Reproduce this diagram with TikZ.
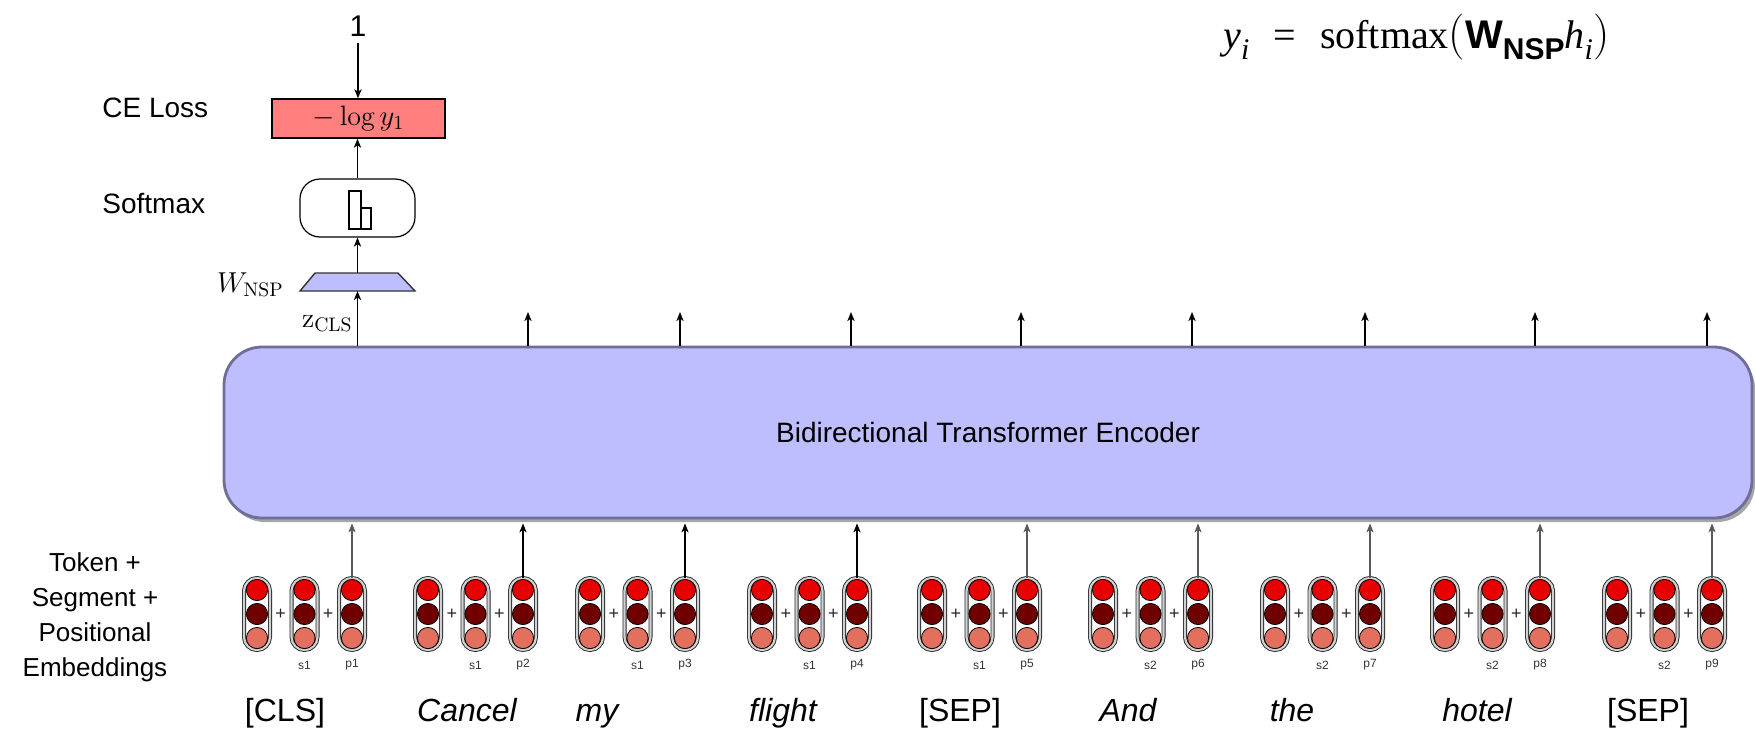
\documentclass[tikz,border=0pt]{standalone}
\usepackage{fontspec}
\usepackage{amsmath}
\usetikzlibrary{arrows.meta,shapes.geometric,shadows,calc}
\newfontfamily\lsans{Liberation Sans}
\newfontfamily\tnr{Liberation Serif}
\definecolor{encfill}{HTML}{BEBEFF}
\definecolor{encdraw}{HTML}{6E6E99}
\definecolor{cefill}{HTML}{FF7F7F}
\definecolor{ctop}{HTML}{E80000}
\definecolor{cmid}{HTML}{700000}
\definecolor{cbot}{HTML}{E3705F}
\newcommand{\sbs}[1]{\raisebox{-0.28em}{\fontsize{15}{15}\selectfont #1}}
\newcommand{\bigp}[1]{{\rmfamily\mdseries\upshape\fontsize{23}{23}\selectfont\raisebox{-0.02em}{#1}}}
\begin{document}
\begin{tikzpicture}[x=0.5pt,y=-0.5pt,
  tip/.style={-{Stealth[length=4.5pt,width=3.6pt,inset=1.2pt]}},
  carr/.style={tip,line width=0.8pt,black},
  tarr/.style={tip,line width=1pt},
  barr/.style={tip,line width=0.6pt,shorten >=2pt},
  pill/.style={draw=black!85,double=black!18,double distance=1.1pt,line width=0.45pt,
    fill=white,rounded corners=6.5pt,minimum width=13pt,minimum height=36pt,inner sep=0pt},
  dot/.style={draw=black,line width=0.4pt},
  plus/.style={font=\lsans\fontsize{9}{9}\selectfont,inner sep=0pt,text=black!85},
  lab/.style={font=\lsans\fontsize{6}{7}\selectfont,inner sep=0pt,text=black!80},
  word/.style={font=\lsans\fontsize{16}{18}\selectfont,anchor=base,inner sep=0pt},
  side/.style={font=\lsans\fontsize{14}{16}\selectfont,anchor=west,inner sep=0pt},
  enc/.style={draw=encdraw,fill=encfill,line width=1.4pt,rounded corners=19pt,
    minimum width=764pt,minimum height=85.5pt,inner sep=0pt,
    drop shadow={shadow xshift=1.5pt,shadow yshift=-2pt,fill=black,opacity=0.35},
    font=\lsans\fontsize{14}{16}\selectfont}
]
\useasboundingbox (0,0) rectangle (1755,728);

% encoder
\node[enc] (enc) at (988,432.5) {Bidirectional Transformer Encoder};

% embeddings
\foreach \x/\sg [count=\i] in {257/s1,428/s1,590/s1,762/s1,932/s1,1103/s2,1275/s2,1445/s2,1617/s2} {
  \foreach \j in {1,2,3} {
    \pgfmathsetmacro{\px}{\x+47.5*(\j-1)}
    \node[pill] (g\i-\j) at (\px,614) {};
    \fill[ctop] (\px,590) circle (5.3pt);
    \draw[dot] (\px,590) circle (5.3pt);
    \fill[cmid] (\px,614) circle (5.3pt);
    \draw[dot] (\px,614) circle (5.3pt);
    \fill[cbot] (\px,638) circle (5.3pt);
    \draw[dot] (\px,638) circle (5.3pt);
  }
  \node[plus] (plus\i-1) at (\x+23.75,614) {+};
  \node[plus] (plus\i-2) at (\x+71.25,614) {+};
  \node[lab] (seg\i) at (\x+47.5,665) {\sg};
  \node[lab] (pos\i) at (\x+95,665) {p\i};
}

% bottom arrows
\draw[barr,black!65] (g1-3.north) -- (g1-3.north |- enc.south);
\draw[barr] (g2-3.north) -- (g2-3.north |- enc.south);
\draw[barr] (g3-3.north) -- (g3-3.north |- enc.south);
\draw[barr] (g4-3.north) -- (g4-3.north |- enc.south);
\foreach \i in {5,6,7,8,9} {
  \draw[barr,black!65] (g\i-3.north) -- (g\i-3.north |- enc.south);
}

% top arrows
\foreach \t [count=\i from 2] in {528,680,851,1021,1192,1365,1535,1707} {
  \coordinate (top\i) at (\t,312);
  \draw[tarr] (top\i |- enc.north) -- (top\i);
}

% words
\node[word] (w1) at (285,721) {[CLS]};
\node[word] (w2) at (467,721) {\itshape Cancel};
\node[word] (w3) at (597,721) {\itshape my};
\node[word] (w4) at (783,721) {\itshape flight};
\node[word] (w5) at (960,721) {[SEP]};
\node[word] (w6) at (1128,721) {\itshape And};
\node[word] (w7) at (1292,721) {\itshape the};
\node[word] (w8) at (1477,721) {\itshape hotel};
\node[word] (w9) at (1648,721) {[SEP]};

% left label
\node[align=center,font=\lsans\fontsize{13}{17.5}\selectfont,inner sep=0pt] (emb) at (95,617)
  {Token +\\Segment +\\Positional\\Embeddings};

% NSP head
\draw[fill=encfill,draw=black!80,line width=0.7pt] (300,291) -- (415,291) -- (398,273) -- (315,273) -- cycle;
\coordinate (trapS) at (357.5,291);
\coordinate (trapN) at (357.5,273);
\node[draw,rounded corners=10pt,minimum width=57.5pt,minimum height=29pt,line width=0.6pt] (sm) at (357.5,208) {};
\draw[line width=0.6pt] (349,229) rectangle (361,191);
\draw[line width=0.6pt] (361,229) rectangle (371,208);
\node[draw,fill=cefill,minimum width=86.5pt,minimum height=19.5pt,line width=0.7pt,
  font=\fontsize{14}{16}\selectfont] (ce) at (358.5,118.5) {$-\log y_1$};
\node[font=\lsans\fontsize{15}{17}\selectfont] (one) at (358,26) {1};

\draw[carr] (trapS |- enc.north) -- (trapS);
\draw[carr] (trapN) -- (trapN |- sm.south);
\draw[carr] (sm.north) -- (sm.north |- ce.south);
\draw[carr] (one.south) -- (one.south |- ce.north);

\node[side] (celab) at (102,108) {CE Loss};
\node[side] (smlab) at (102,204) {Softmax};
\node[anchor=base east,inner sep=0pt,font=\fontsize{14}{16}\selectfont] (wnsp) at (284,292) {$W_{\mathrm{NSP}}$};
\node[anchor=base east,inner sep=0pt,font=\fontsize{14}{16}\selectfont] (zcls) at (353,327) {$\mathrm{z}_{\mathrm{CLS}}$};

% equation
\node[anchor=base west,inner sep=0pt,font=\tnr\fontsize{20}{22}\selectfont] (eq) at (1223,48)
  {\textit{y}\sbs{\textit{i}}\hspace{0.6em}=\hspace{0.6em}softmax\bigp{(}{\lsans\bfseries W\sbs{\lsans\bfseries NSP}}\textit{h}\sbs{\textit{i}}\bigp{)}};
\end{tikzpicture}
\end{document}
